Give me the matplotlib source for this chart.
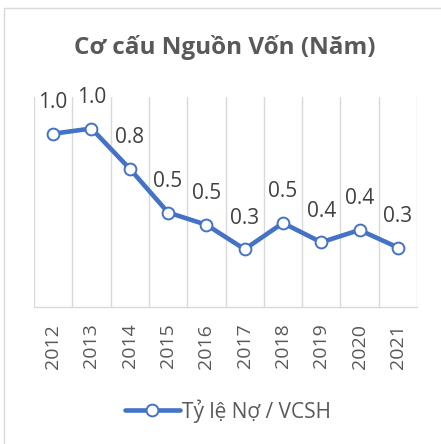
import matplotlib
matplotlib.use("Agg")
import matplotlib.pyplot as plt
from matplotlib.patches import Rectangle

years = ["2012", "2013", "2014", "2015", "2016", "2017", "2018", "2019", "2020", "2021"]
debt_to_equity = [0.99, 1.02, 0.79, 0.54, 0.47, 0.33, 0.48, 0.37, 0.44, 0.34]

BLUE = "#4472C4"
GRID = "#D9D9D9"
TEXT = "#595959"

plt.rcParams["font.family"] = ["Open Sans", "DejaVu Sans"]

fig = plt.figure(figsize=(4.41, 4.44), dpi=100)
fig.patches.append(Rectangle((4 / 441, -0.1), 1.2, 1 - 8 / 444 + 0.1,
                             transform=fig.transFigure, fill=False,
                             edgecolor=GRID, linewidth=1.0))

ax = fig.add_axes([34 / 441, 1 - 307 / 444, (417 - 34) / 441, (307 - 97) / 444])
x = list(range(len(years)))
ax.plot(x, debt_to_equity, color=BLUE, linewidth=3.3, marker="o", markersize=8.5,
        markerfacecolor="white", markeredgecolor=BLUE, markeredgewidth=1.4,
        solid_capstyle="round", label="Tỷ lệ Nợ / VCSH", zorder=3)

for xi, v in zip(x, debt_to_equity):
    ax.annotate(f"{v:.1f}", (xi, v), xytext=(0, 22.5), textcoords="offset points",
                ha="center", va="center", fontsize=15, color="#404040")

ax.set_xlim(-0.5, len(years) - 0.5)
ax.set_ylim(0, 1.2)
ax.set_xticks(x)
ax.set_xticklabels(years, rotation=90, fontsize=14, color=TEXT)
ax.set_xticks([i - 0.5 for i in range(len(years) + 1)], minor=True)
ax.tick_params(axis="x", which="both", length=0, pad=12)
ax.grid(True, axis="x", which="minor", color=GRID, linewidth=1.0)
ax.set_yticks([])
for s in ("left", "right", "top"):
    ax.spines[s].set_visible(False)
ax.spines["bottom"].set_color(GRID)
ax.spines["bottom"].set_linewidth(1.0)

fig.text(225 / 441, 1 - 48 / 444, "Cơ cấu Nguồn Vốn (Năm)", ha="center", va="center",
         fontsize=17.5, fontweight="bold", color=TEXT)

fig.legend(loc="center", bbox_to_anchor=(228 / 441, 1 - 411 / 444), frameon=False,
           fontsize=15, labelcolor=TEXT, handlelength=2.6, handletextpad=0.1)

fig.savefig("out.png", dpi=100)
